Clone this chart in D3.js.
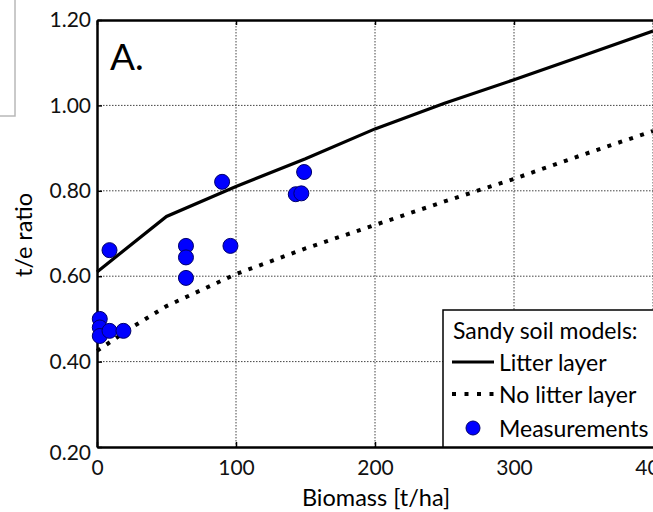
<!DOCTYPE html>
<html>
<head>
<meta charset="utf-8">
<script src="https://cdn.jsdelivr.net/npm/d3@7"></script>
<style>
  body { margin: 0; background: #fff; }
  svg { display: block; font-family: Lato, "Open Sans", sans-serif; }
</style>
</head>
<body>
<svg></svg>
<script>
var width = 653;
var height = 512;

// data
var xTicks = [0, 100, 200, 300, 400];
var yTicks = [0.2, 0.4, 0.6, 0.8, 1.0, 1.2];

var litterX = [0, 50, 100, 150, 200, 250, 300, 350, 400];
var litterY = [0.61, 0.74, 0.81, 0.875, 0.945, 1.005, 1.06, 1.117, 1.174];

var noLitterX = [0, 25, 50, 100, 150, 200, 250, 300, 350, 400];
var noLitterY = [0.425, 0.48, 0.53, 0.605, 0.665, 0.72, 0.775, 0.828, 0.885, 0.94];

var measX = [2, 2, 2, 9, 19, 9, 64, 64, 64, 96, 90, 143, 147, 149];
var measY = [0.50, 0.48, 0.46, 0.472, 0.472, 0.661, 0.671, 0.644, 0.596, 0.671, 0.821, 0.792, 0.794, 0.844];

var legendLabels = ["Litter layer", "No litter layer", "Measurements"];

var mLeft = 97, mTop = 20, mBottom = 447, mRight = 653;

var x = d3.scaleLinear().domain([0, 400]).range([mLeft, mRight]);
var y = d3.scaleLinear().domain([0.2, 1.2]).range([mBottom, mTop]);

var svg = d3.select("svg")
    .attr("width", width)
    .attr("height", height);

// stray window box in the corner
svg.append("rect")
    .attr("x", -5).attr("y", -5)
    .attr("width", 20).attr("height", 121)
    .attr("fill", "#fff")
    .attr("stroke", "#b8b8b8")
    .attr("stroke-width", 1.5);

//grid
svg.append("g")
  .selectAll("line")
  .data(xTicks.slice(1))
  .enter()
  .append("line")
    .attr("x1", d => x(d)).attr("x2", d => x(d))
    .attr("y1", mTop).attr("y2", mBottom)
    .attr("stroke", "#444")
    .attr("stroke-width", 1)
    .attr("stroke-dasharray", "1.5,1.5");

svg.append("g")
  .selectAll("line")
  .data(yTicks.slice(1, -1))
  .enter()
  .append("line")
    .attr("x1", mLeft).attr("x2", mRight)
    .attr("y1", d => y(d)).attr("y2", d => y(d))
    .attr("stroke", "#444")
    .attr("stroke-width", 1)
    .attr("stroke-dasharray", "1.5,1.5");

// axes
var xAxis = d3.axisBottom(x)
    .tickValues(xTicks)
    .tickFormat(d3.format("d"))
    .tickSize(-5)
    .tickSizeOuter(0)
    .tickPadding(12);

var yAxis = d3.axisLeft(y)
    .tickValues(yTicks)
    .tickFormat(d3.format(".2f"))
    .tickSize(-5)
    .tickSizeOuter(0)
    .tickPadding(6);

var gx = svg.append("g")
    .attr("transform", "translate(0," + mBottom + ")")
    .call(xAxis);

var gy = svg.append("g")
    .attr("transform", "translate(" + mLeft + ",0)")
    .call(yAxis);

var gtop = svg.append("g")
    .attr("transform", "translate(0," + mTop + ")")
    .call(d3.axisTop(x).tickValues(xTicks).tickSize(-5).tickSizeOuter(0).tickFormat(""));

[gx, gy, gtop].forEach(function(g){
  g.select(".domain").attr("stroke", "#000").attr("stroke-width", 2.5);
  g.selectAll(".tick line").attr("stroke", "#000").attr("stroke-width", 1.5);
  g.selectAll("text")
    .attr("fill", "#111")
    .style("font-family", "Lato, sans-serif")
    .style("font-size", "21px");
});
gx.selectAll("text").attr("dy", "0.75em");
gy.selectAll(".tick").filter(d => d === 0.2).select("text").attr("dy", "0.6em");

// lines
var line = d3.line()
    .x(d => x(d[0]))
    .y(d => y(d[1]));

svg.append("path")
    .datum(d3.zip(litterX, litterY))
    .attr("d", line)
    .attr("fill", "none")
    .attr("stroke", "#000")
    .attr("stroke-width", 3.2);

svg.append("path")
    .datum(d3.zip(noLitterX, noLitterY))
    .attr("d", line)
    .attr("fill", "none")
    .attr("stroke", "#000")
    .attr("stroke-width", 4)
    .attr("stroke-dasharray", "4,7.5");

// measurements
svg.append("g")
  .selectAll("circle")
  .data(d3.zip(measX, measY))
  .enter()
  .append("circle")
    .attr("cx", d => x(d[0]))
    .attr("cy", d => y(d[1]))
    .attr("r", 7.5)
    .attr("fill", "#0000ff")
    .attr("stroke", "#00006a")
    .attr("stroke-width", 1);

// panel letter
svg.append("text")
    .attr("x", 110)
    .attr("y", 70)
    .style("font-size", "37px")
    .attr("fill", "#000")
    .text("A.");

// legend
var lg = svg.append("g");
lg.append("rect")
    .attr("x", 443).attr("y", 310)
    .attr("width", 230).attr("height", mBottom - 310)
    .attr("fill", "#fff")
    .attr("stroke", "#000")
    .attr("stroke-width", 1.5);

lg.append("text")
    .attr("x", 453).attr("y", 339)
    .style("font-size", "23px")
    .text("Sandy soil models:");

var rowY = [362, 394, 428];
lg.append("line")
    .attr("x1", 452).attr("x2", 494)
    .attr("y1", rowY[0]).attr("y2", rowY[0])
    .attr("stroke", "#000").attr("stroke-width", 3.2);
lg.append("line")
    .attr("x1", 452).attr("x2", 494)
    .attr("y1", rowY[1]).attr("y2", rowY[1])
    .attr("stroke", "#000").attr("stroke-width", 4)
    .attr("stroke-dasharray", "4,8.5");
lg.append("circle")
    .attr("cx", 473).attr("cy", rowY[2]).attr("r", 7)
    .attr("fill", "#0000ff")
    .attr("stroke", "#00006a");

lg.selectAll("text.lab")
  .data(legendLabels)
  .enter()
  .append("text")
    .attr("class", "lab")
    .attr("x", 499)
    .attr("y", (d, i) => rowY[i] + 9)
    .style("font-size", "23px")
    .text(d => d);

// axis titles
svg.append("text")
    .attr("x", 376)
    .attr("y", 506)
    .style("text-anchor", "middle")
    .style("font-size", "23.5px")
    .text("Biomass [t/ha]");

svg.append("text")
    .attr("transform", "rotate(-90)")
    .attr("x", -235)
    .attr("y", 32)
    .style("text-anchor", "middle")
    .style("font-size", "23.5px")
    .text("t/e ratio");
</script>
</body>
</html>
